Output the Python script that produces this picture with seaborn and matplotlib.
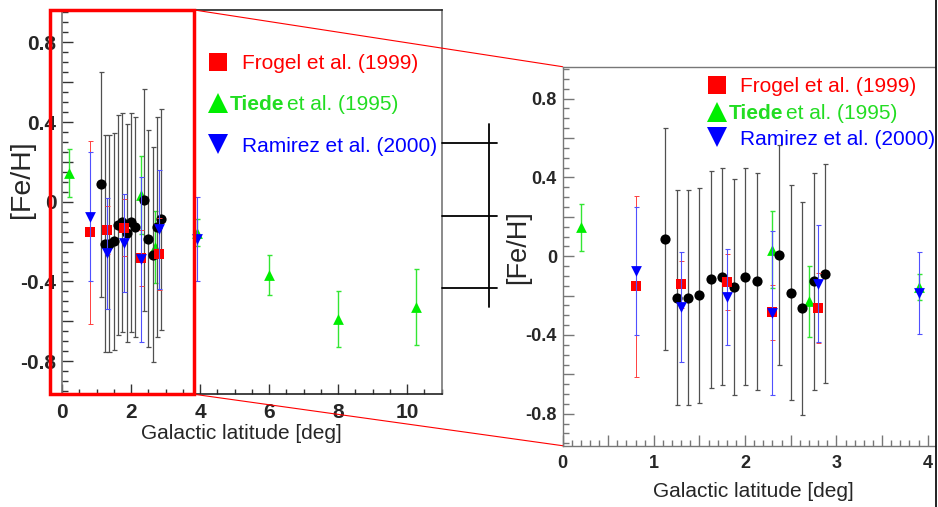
import matplotlib
matplotlib.use("Agg")
import matplotlib.pyplot as plt
import seaborn as sns
import numpy as np
import pandas as pd
from matplotlib.ticker import MultipleLocator, FuncFormatter
from matplotlib.lines import Line2D
from matplotlib.patches import Rectangle

# ---------------- data ----------------
# this work (black circles)
this_b = [1.125, 1.25, 1.375, 1.5, 1.625, 1.75, 1.875, 2.0, 2.125, 2.375, 2.5, 2.625, 2.75, 2.875]
this_feh = [0.088, -0.211, -0.211, -0.199, -0.117, -0.104, -0.156, -0.104, -0.127, 0.008, -0.185, -0.265, -0.127, -0.088]
this_err = [0.565, 0.545, 0.545, 0.545, 0.55, 0.55, 0.548, 0.55, 0.55, 0.558, 0.546, 0.54, 0.55, 0.555]

# Frogel et al. (1999)
frogel_b = [0.8, 1.3, 1.8, 2.3, 2.8]
frogel_feh = [-0.153, -0.142, -0.131, -0.284, -0.263]
frogel_err = [0.46, 0.12, 0.143, 0.14, 0.18]

# Tiede et al. (1995)
tiede_b = [0.2, 2.3, 2.7, 3.9, 6.0, 8.0, 10.25]
tiede_feh = [0.146, 0.034, -0.228, -0.156, -0.367, -0.587, -0.528]
tiede_err = [0.12, 0.194, 0.18, 0.068, 0.10, 0.14, 0.19]

# Ramirez et al. (2000)
ramirez_b = [0.8, 1.3, 1.8, 2.3, 2.8, 3.9]
ramirez_feh = [-0.075, -0.258, -0.207, -0.289, -0.139, -0.187]
ramirez_err = [0.323, 0.278, 0.246, 0.415, 0.299, 0.21]

legend_labels = ["Frogel et al. (1999)", "Tiede", "et al. (1995)", "Ramirez et al. (2000)"]
xlabel = "Galactic latitude [deg]"
ylabel = "[Fe/H]"

RED = "#ff0000"
GREEN = "#00ee00"
BLUE = "#0000ff"

sns.set_theme(style="white")
plt.rcParams["font.family"] = ["Liberation Sans", "DejaVu Sans"]

W, H = 938, 507
fig = plt.figure(figsize=(W / 100, H / 100), dpi=100)


def fx(px):
    return px / W


def fy(py):
    return 1 - py / H


def ax_rect(x0, y0, x1, y1):
    return [fx(x0), fy(y1), (x1 - x0) / W, (y1 - y0) / H]


axL = fig.add_axes(ax_rect(62, 10, 441.7, 393.5))
axR = fig.add_axes(ax_rect(562.5, 66.7, 935, 445.7))

df_this = pd.DataFrame({"b": this_b, "feh": this_feh, "err": this_err})
df_fro = pd.DataFrame({"b": frogel_b, "feh": frogel_feh, "err": frogel_err})
df_tie = pd.DataFrame({"b": tiede_b, "feh": tiede_feh, "err": tiede_err})
df_ram = pd.DataFrame({"b": ramirez_b, "feh": ramirez_feh, "err": ramirez_err})

series = [
    (df_tie, "^", GREEN, "#33e633", 1.0, 60),
    (df_this, "o", "black", "#505050", 0.9, 54),
    (df_fro, "s", RED, "#ff4040", 0.7, 50),
    (df_ram, "v", BLUE, "#5050ff", 0.8, 60),
]


def yfmt(v, pos):
    if abs(v) < 1e-9:
        return "0"
    if abs(round(v / 0.4) * 0.4 - v) < 1e-6:
        return f"{v:.1f}"
    return ""


for ax in (axL, axR):
    for k, (df, mk, col, ecol, elw, s) in enumerate(series):
        ax.errorbar(df["b"], df["feh"], yerr=df["err"], fmt="none", ecolor=ecol,
                    elinewidth=elw, capsize=1.8, capthick=elw, zorder=2 + 2 * k)
        sns.scatterplot(data=df, x="b", y="feh", marker=mk, color=col, s=s,
                        linewidth=0, ax=ax, legend=False, zorder=3 + 2 * k)
    ax.set_ylim(-0.962, 0.962)
    ax.yaxis.set_major_locator(MultipleLocator(0.2))
    ax.yaxis.set_minor_locator(MultipleLocator(0.05))
    ax.yaxis.set_major_formatter(FuncFormatter(yfmt))
    ax.set_facecolor("white")

# left panel
axL.set_xlim(0, 11.0)
axL.xaxis.set_major_locator(MultipleLocator(2))
axL.xaxis.set_minor_locator(MultipleLocator(0.5))
axL.tick_params(axis="both", which="major", direction="in", length=8, width=1,
                color="#333333", labelsize=15, pad=4)
axL.tick_params(axis="both", which="minor", direction="in", length=4.5, width=1,
                color="#333333")
axL.tick_params(axis="x", which="major", length=7, pad=7)
axL.tick_params(axis="x", which="minor", length=3.6)
axL.tick_params(left=True, bottom=True, which="both")
for lab in axL.get_xticklabels() + axL.get_yticklabels():
    lab.set_fontweight("bold")
for sp in ["top", "bottom"]:
    axL.spines[sp].set_color("#222222")
for sp in ["left", "right"]:
    axL.spines[sp].set_color("#777777")
for sp in axL.spines.values():
    sp.set_linewidth(1.2)
axL.set_xlabel(xlabel, fontsize=15)
axL.xaxis.set_label_coords(0.4733, -0.08)
axL.set_ylabel(ylabel, fontsize=20.5)
axL.yaxis.set_label_coords(-0.0698, 0.559)

# right panel
axR.set_xlim(0, 4.08)
axR.xaxis.set_major_locator(MultipleLocator(0.5))
axR.xaxis.set_minor_locator(MultipleLocator(0.1))
axR.xaxis.set_major_formatter(FuncFormatter(lambda v, p: f"{v:.0f}" if abs(v - round(v)) < 1e-6 else ""))
axR.tick_params(axis="both", which="major", direction="in", length=8, width=1,
                color="#777777", labelsize=13, pad=4)
axR.tick_params(axis="both", which="minor", direction="in", length=4, width=1,
                color="#777777")
axR.tick_params(axis="x", which="major", pad=7)
axR.tick_params(left=True, bottom=True, which="both")
for lab in axR.get_xticklabels() + axR.get_yticklabels():
    lab.set_fontweight("bold")
for sp in ["top", "bottom", "left"]:
    axR.spines[sp].set_color("#777777")
    axR.spines[sp].set_linewidth(1.0)
axR.spines["right"].set_visible(False)
axR.set_xlabel(xlabel, fontsize=15)
axR.xaxis.set_label_coords(0.513, -0.096)
axR.set_ylabel(ylabel, fontsize=19.5)
axR.yaxis.set_label_coords(-0.0854, 0.525)

# ---------------- legends (drawn in figure pixels) ----------------
def legend_block(mx, tx, tiede_x, tiede_et_x, rows_y, base_y, msz):
    fig.add_artist(Line2D([fx(mx)], [fy(rows_y[0])], marker="s", color=RED, ms=msz, ls="none",
                          mew=0, transform=fig.transFigure))
    fig.add_artist(Line2D([fx(mx)], [fy(rows_y[1])], marker="^", color=GREEN, ms=msz + 1, ls="none",
                          mew=0, transform=fig.transFigure))
    fig.add_artist(Line2D([fx(mx)], [fy(rows_y[2])], marker="v", color=BLUE, ms=msz + 1, ls="none",
                          mew=0, transform=fig.transFigure))
    fig.text(fx(tx), fy(base_y[0]), legend_labels[0], color=RED, fontsize=15, va="baseline")
    fig.text(fx(tiede_x), fy(base_y[1]), legend_labels[1], color="#22dd22", fontsize=15,
             fontweight="bold", va="baseline")
    fig.text(fx(tiede_et_x), fy(base_y[1]), legend_labels[2], color="#22dd22", fontsize=15,
             va="baseline")
    fig.text(fx(tx), fy(base_y[2]), legend_labels[3], color=BLUE, fontsize=15, va="baseline")


legend_block(218.3, 241.7, 230, 287.3, [62.3, 102.7, 144.3], [69.3, 110, 151.5], 13)
legend_block(716.7, 740, 728.3, 785.7, [85, 111.7, 137.3], [92.3, 119, 145], 13)

# ---------------- zoom decorations ----------------
fig.add_artist(Rectangle((fx(50), fy(394.3)), (194.3 - 50) / W, (394.3 - 10) / H, fill=False,
                         ec=RED, lw=2.5, transform=fig.transFigure, zorder=5))
fig.add_artist(Line2D([fx(194.3), fx(562.5)], [fy(10), fy(66.7)], color=RED, lw=0.8,
                      transform=fig.transFigure))
fig.add_artist(Line2D([fx(194.3), fx(562.5)], [fy(394.3), fy(445.7)], color=RED, lw=0.8,
                      transform=fig.transFigure))

# bracket artifact between panels
for yy in (143.3, 215.7, 287.7):
    fig.add_artist(Line2D([fx(441.7), fx(496.7)], [fy(yy), fy(yy)], color="black", lw=1.3,
                          transform=fig.transFigure))
fig.add_artist(Line2D([fx(489.3), fx(489.3)], [fy(124), fy(307.3)], color="black", lw=1.3,
                      transform=fig.transFigure))
# right border line
fig.add_artist(Line2D([fx(935.7), fx(935.7)], [0, 1], color="#111111", lw=1.3,
                      transform=fig.transFigure))

fig.savefig("out.png", dpi=100, facecolor="white")
